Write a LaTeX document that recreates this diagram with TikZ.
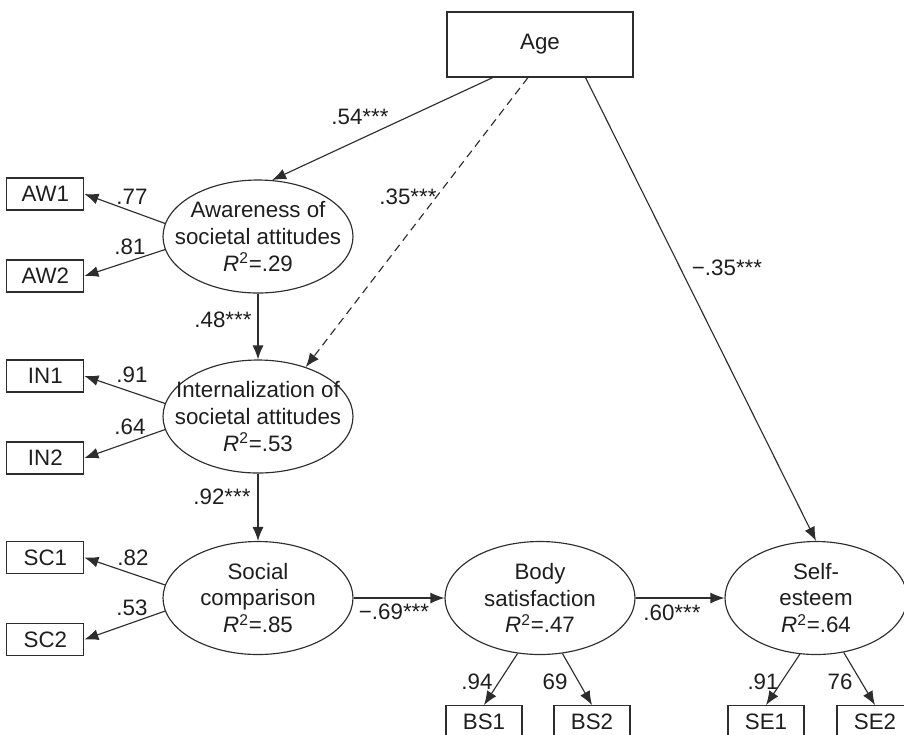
\documentclass[tikz,border=0pt]{standalone}
\usepackage{fontspec}
\setmainfont{Liberation Sans}
\usetikzlibrary{shapes.geometric, arrows.meta, positioning}
\definecolor{linecolor}{RGB}{45, 45, 45}
\definecolor{textcolor}{RGB}{30, 30, 30}

\begin{document}
\begin{tikzpicture}[
  font=\fontsize{12.7}{15.3}\selectfont,
  latent/.style = {
    ellipse,
    draw = linecolor,
    line width = 0.65pt,
    minimum width = 3.8cm,
    minimum height = 2.26cm,
    inner xsep = -0.4cm,
    inner ysep = 0pt,
    align = center,
    text = textcolor
  },
  indicator/.style = {
    rectangle,
    draw = linecolor,
    line width = 0.65pt,
    minimum width = 1.54cm,
    minimum height = 0.64cm,
    inner sep = 0pt,
    text = textcolor
  },
  arrow/.style = {
    -{Latex[length=2.8mm, width=2.2mm]},
    draw = linecolor,
    line width = 0.65pt
  },
  coef/.style = {
    inner sep = 0pt,
    text = textcolor
  }
]
\useasboundingbox (0,0) rectangle (18.08,-14.68);
\clip (0,0) rectangle (18.08,-14.68);

% Nodes
\node[indicator, minimum width=3.72cm, minimum height=1.3cm] (age) at (10.8,-0.89) {Age};
\node[latent] (aware) at (5.16,-4.73) {Awareness of\\societal attitudes\\\textit{R}\textsuperscript{2}=.29};
\node[latent] (intern) at (5.16,-8.33) {Internalization of\\societal attitudes\\\textit{R}\textsuperscript{2}=.53};
\node[latent] (social) at (5.16,-11.96) {Social\\comparison\\\textit{R}\textsuperscript{2}=.85};
\node[latent] (body) at (10.8,-11.96) {Body\\satisfaction\\\textit{R}\textsuperscript{2}=.47};
\node[latent, minimum width=3.64cm] (self) at (16.32,-11.96) {Self-\\esteem\\\textit{R}\textsuperscript{2}=.64};

\node[indicator, left=1.56cm of aware.west, yshift=0.85cm] (aw1) {AW1};
\node[indicator, left=1.56cm of aware.west, yshift=-0.79cm] (aw2) {AW2};
\node[indicator, left=1.56cm of intern.west, yshift=0.81cm] (in1) {IN1};
\node[indicator, left=1.56cm of intern.west, yshift=-0.83cm] (in2) {IN2};
\node[indicator, left=1.56cm of social.west, yshift=0.81cm] (sc1) {SC1};
\node[indicator, left=1.56cm of social.west, yshift=-0.83cm] (sc2) {SC2};
\node[indicator, below=1cm of body.south, xshift=-1.12cm, minimum width=1.52cm] (bs1) {BS1};
\node[indicator, below=1cm of body.south, xshift=1.04cm, minimum width=1.52cm] (bs2) {BS2};
\node[indicator, below=1cm of self.south, xshift=-1.0cm, minimum width=1.52cm] (se1) {SE1};
\node[indicator, below=1cm of self.south, xshift=1.18cm, minimum width=1.52cm] (se2) {SE2};

% Coefficients
\node[coef] (c54) at (7.2,-2.34) {.54***};
\node[coef] (c35) at (8.16,-3.94) {.35***};
\node[coef] (cm35) at (14.54,-5.36) {−.35***};
\node[coef] (c48) at (4.46,-6.4) {.48***};
\node[coef] (c92) at (4.44,-9.94) {.92***};
\node[coef] (c77) at (2.64,-3.94) {.77};
\node[coef] (c81) at (2.6,-4.94) {.81};
\node[coef] (c91a) at (2.64,-7.5) {.91};
\node[coef] (c64) at (2.6,-8.54) {.64};
\node[coef] (c82) at (2.66,-11.16) {.82};
\node[coef] (c53) at (2.64,-12.16) {.53};
\node[coef] (cm69) at (7.88,-12.24) {−.69***};
\node[coef] (c60) at (13.44,-12.26) {.60***};
\node[coef] (c94) at (9.54,-13.64) {.94};
\node[coef] (c69) at (11.1,-13.64) {69};
\node[coef] (c91b) at (15.26,-13.64) {.91};
\node[coef] (c76) at (16.8,-13.64) {76};

% Arrows
\draw[arrow] (age.215) -- (aware.76);
\draw[arrow, dash pattern=on 4.5pt off 3pt] (age.250) -- (intern.46);
\draw[arrow] (age.324) -- (self.north);
\draw[arrow] (aware) -- (intern);
\draw[arrow] (intern) -- (social);
\draw[arrow] (social) -- (body);
\draw[arrow] (body) -- (self);

\draw[arrow] (aware.172) -- (aw1.east);
\draw[arrow] (aware.188) -- (aw2.east);
\draw[arrow] (intern.172) -- (in1.east);
\draw[arrow] (intern.188) -- (in2.east);
\draw[arrow] (social.172) -- (sc1.east);
\draw[arrow] (social.188) -- (sc2.east);
\draw[arrow] (body.248) -- (bs1.north);
\draw[arrow] (body.292) -- (bs2.north);
\draw[arrow] (self.254) -- (se1.north);
\draw[arrow] (self.297) -- (se2.north);

\end{tikzpicture}
\end{document}
